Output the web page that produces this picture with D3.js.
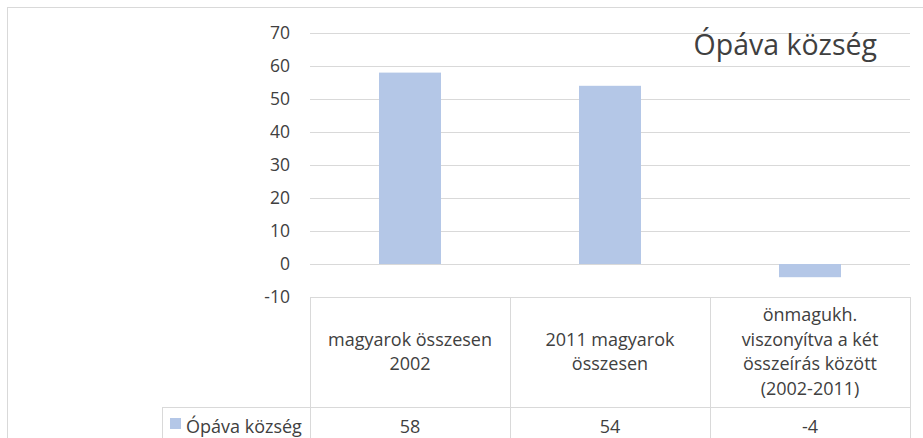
<!DOCTYPE html>
<html>
<head>
<meta charset="utf-8">
<script src="https://cdn.jsdelivr.net/npm/d3@7"></script>
<style>
  body { margin: 0; background: #fff; }
  text { font-family: "Open Sans", "Noto Sans", sans-serif; fill: #404040; }
</style>
</head>
<body>
<div id="chart"></div>
<script>
var svgWidth = 923;
var svgHeight = 438;

// chart data
var seriesName = "Ópáva község";
var categories = ["magyarok összesen 2002", "2011 magyarok összesen", "önmagukh. viszonyítva a két összeírás között (2002-2011)"];
var values = [58, 54, -4];
var yTicks = [-10, 0, 10, 20, 30, 40, 50, 60, 70];

var plot = { left: 310, right: 910, top: 33, bottom: 297 };
var tableBottom = 470;
var headerBottom = 407;
var legendLeft = 162;

var svg = d3.select("#chart")
  .append("svg")
  .attr("width", svgWidth)
  .attr("height", svgHeight);

// outer chart border (clipped by the page on right/bottom)
svg.append("rect")
  .attr("x", 7.5)
  .attr("y", 7.5)
  .attr("width", 960)
  .attr("height", 500)
  .attr("fill", "none")
  .attr("stroke", "#d9d9d9");

var x = d3.scaleBand()
  .domain(categories)
  .range([plot.left, plot.right])
  .padding(0);

var y = d3.scaleLinear()
  .domain([-10, 70])
  .range([plot.bottom, plot.top]);

// gridlines
svg.append("g")
  .selectAll("line")
  .data(yTicks.filter(d => d > -10))
  .enter()
  .append("line")
  .attr("x1", plot.left)
  .attr("x2", plot.right)
  .attr("y1", d => Math.round(y(d)) + 0.5)
  .attr("y2", d => Math.round(y(d)) + 0.5)
  .attr("stroke", "#d9d9d9");

// y axis labels (plain hyphen for negatives, like Excel)
var leftAxis = d3.axisLeft(y)
  .tickValues(yTicks)
  .tickFormat(d => String(d))
  .tickSize(0)
  .tickPadding(20);
var yAxis = svg.append("g")
  .attr("transform", `translate(${plot.left}, 0)`)
  .call(leftAxis);
yAxis.select(".domain").remove();
yAxis.selectAll("text")
  .attr("font-size", "17.5px")
  .attr("font-family", "Open Sans")
  .attr("fill", "#404040");

// bars
var barWidth = x.bandwidth() * 0.31;
svg.append("g")
  .selectAll("rect")
  .data(values)
  .enter()
  .append("rect")
  .attr("x", (d, i) => x(categories[i]) + (x.bandwidth() - barWidth) / 2)
  .attr("y", d => y(Math.max(0, d)))
  .attr("width", barWidth)
  .attr("height", d => Math.abs(y(d) - y(0)))
  .attr("fill", "#b4c7e7");

// data table
var tableGroup = svg.append("g")
  .attr("stroke", "#d9d9d9")
  .attr("fill", "none");

tableGroup.append("line")
  .attr("x1", plot.left).attr("x2", plot.right)
  .attr("y1", plot.bottom + 0.5).attr("y2", plot.bottom + 0.5);
tableGroup.append("line")
  .attr("x1", legendLeft).attr("x2", plot.right)
  .attr("y1", headerBottom + 0.5).attr("y2", headerBottom + 0.5);
tableGroup.append("line")
  .attr("x1", legendLeft + 0.5).attr("x2", legendLeft + 0.5)
  .attr("y1", headerBottom).attr("y2", tableBottom);

var colEdges = categories.map(c => x(c)).concat([plot.right]);
tableGroup.selectAll(".vline")
  .data(colEdges)
  .enter()
  .append("line")
  .attr("x1", d => Math.round(d) + 0.5)
  .attr("x2", d => Math.round(d) + 0.5)
  .attr("y1", plot.bottom)
  .attr("y2", tableBottom);

// wrap header text into lines of limited width
function wrapLines(str, maxWidth, size) {
  var probe = svg.append("text").attr("font-size", size);
  var words = str.split(" ");
  var lines = [];
  var line = [];
  words.forEach(function(w) {
    line.push(w);
    probe.text(line.join(" "));
    if (probe.node().getComputedTextLength() > maxWidth && line.length > 1) {
      line.pop();
      lines.push(line.join(" "));
      line = [w];
    }
  });
  lines.push(line.join(" "));
  probe.remove();
  return lines;
}

var lineHeight = 24.5;
var headerMid = (plot.bottom + headerBottom) / 2;
categories.forEach(function(c) {
  var lines = wrapLines(c, 180, "18px");
  var t = svg.append("text")
    .attr("font-size", "18px")
    .attr("text-anchor", "middle");
  var firstY = headerMid - (lines.length - 1) * lineHeight / 2 + 6;
  lines.forEach(function(l, i) {
    t.append("tspan")
      .attr("x", x(c) + x.bandwidth() / 2)
      .attr("y", firstY + i * lineHeight)
      .text(l);
  });
});

// values row
svg.append("g")
  .selectAll("text")
  .data(values)
  .enter()
  .append("text")
  .attr("font-size", "18px")
  .attr("text-anchor", "middle")
  .attr("x", (d, i) => x(categories[i]) + x.bandwidth() / 2)
  .attr("y", 433)
  .text(d => d);

// legend key in table
svg.append("rect")
  .attr("x", 170)
  .attr("y", 418)
  .attr("width", 11)
  .attr("height", 11)
  .attr("fill", "#b4c7e7");
svg.append("text")
  .attr("font-size", "18px")
  .attr("x", 186)
  .attr("y", 433)
  .text(seriesName);

// title
svg.append("text")
  .attr("font-size", "28.5px")
  .attr("text-anchor", "end")
  .attr("x", 877)
  .attr("y", 55)
  .text(seriesName);
</script>
</body>
</html>
